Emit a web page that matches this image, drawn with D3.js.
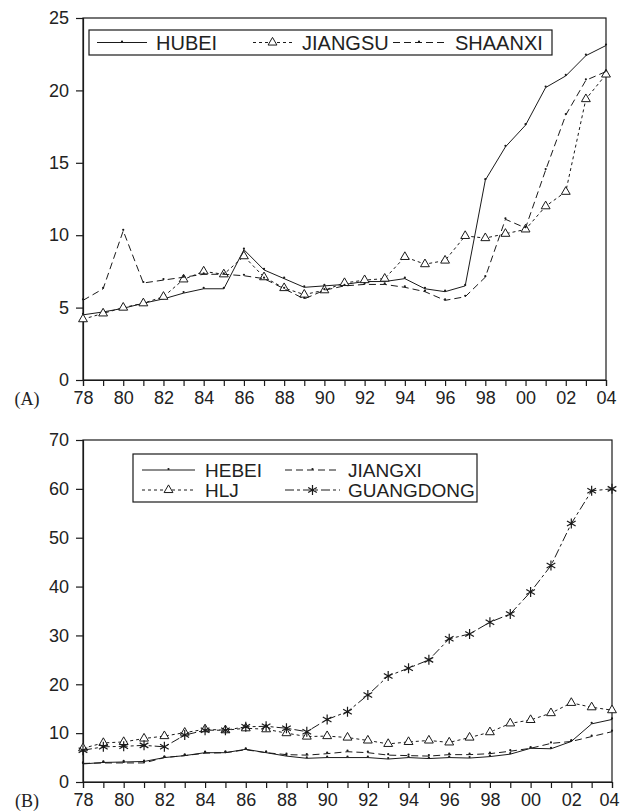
<!DOCTYPE html>
<html lang="en">
<head>
  <meta charset="UTF-8">
  <script src="https://d3js.org/d3.v7.min.js"></script>
  <title>Provinces</title>
  <style>
    body { margin: 0; background: #fff; }
    text { font-family: "Liberation Sans", Arial, Helvetica, sans-serif; fill: #222; }
  </style>
</head>
<body>
<script>
  /*
    Data
  */
  const years = d3.range(1978, 2005)

  const hubei   = [4.5,4.7,4.95,5.3,5.6,6.0,6.3,6.3,9.0,7.6,7.0,6.4,6.5,6.6,6.8,6.8,7.0,6.3,6.1,6.5,13.8,16.1,17.6,20.2,21.0,22.4,23.1]
  const jiangsu = [4.2,4.6,5.0,5.3,5.75,6.95,7.5,7.3,8.55,7.1,6.35,5.9,6.2,6.7,6.9,7.0,8.5,8.0,8.25,9.95,9.8,10.1,10.4,12.0,13.0,19.4,21.1]
  const shaanxi = [5.5,6.3,10.3,6.7,6.9,7.1,7.3,7.3,7.2,7.0,6.3,5.6,6.2,6.5,6.6,6.6,6.4,6.1,5.5,5.75,7.1,11.1,10.5,14.5,18.3,20.7,21.3]

  const hebei     = [3.7,4.0,4.1,4.2,5.0,5.4,6.0,6.0,6.7,6.0,5.3,4.85,5.0,5.0,5.0,4.7,5.0,4.8,5.0,4.9,5.2,5.7,6.9,6.8,8.3,11.9,12.8]
  const jiangxi   = [3.8,3.9,3.9,3.9,5.0,5.4,5.9,6.0,6.6,6.0,5.6,5.5,5.8,6.2,6.0,5.5,5.4,5.3,5.6,5.6,5.8,6.3,6.9,7.9,8.3,9.3,10.3]
  const hlj       = [6.9,8.0,8.2,8.9,9.4,10.1,10.8,10.6,11.0,10.8,10.0,9.3,9.4,9.1,8.5,7.8,8.2,8.5,8.1,9.1,10.2,12.0,12.7,14.1,16.2,15.3,14.7]
  const guangdong = [6.5,7.2,7.3,7.5,7.2,9.6,10.6,10.6,11.3,11.4,11.0,10.3,12.8,14.4,17.8,21.7,23.3,25.0,29.3,30.3,32.7,34.4,38.9,44.3,52.9,59.6,60.0]

  const ticksA = [0, 5, 10, 15, 20, 25]
  const ticksB = [0, 10, 20, 30, 40, 50, 60, 70]

  /*
    Line styles
  */
  const ink = "#1a1a1a"
  const styles = {
    solid:   { dash: null,       marker: "dot" },
    short:   { dash: "3,3",      marker: "tri" },
    long:    { dash: "7,4",      marker: "dot" },
    dashdot: { dash: "9,3,3,3",  marker: "star" }
  }

  let svg = d3.select("body").append("svg")
              .attr("width", 620)
              .attr("height", 811)

  function yearLabel(y) {
    return String(y % 100).padStart(2, "0")
  }

  function drawMarker(g, kind, x, y) {
    if (kind === "dot") {
      g.append("circle").attr("cx", x).attr("cy", y - 1).attr("r", 1.1).attr("fill", ink)
    } else if (kind === "tri") {
      g.append("path")
        .attr("d", d3.symbol(d3.symbolTriangle, 34)())
        .attr("transform", `translate(${x},${y})`)
        .attr("fill", "#fff").attr("stroke", ink).attr("stroke-width", 1)
    } else if (kind === "star") {
      g.append("path")
        .attr("d", d3.symbol(d3.symbolAsterisk, 70)())
        .attr("transform", `translate(${x},${y})`)
        .attr("fill", "none").attr("stroke", ink).attr("stroke-width", 1.2)
    }
  }

  /*
    One panel: box, axes, series, legend
  */
  function drawPanel(p) {
    let x = d3.scaleLinear().domain([1978, 2004]).range([p.left, p.right])
    let y = d3.scaleLinear().domain(p.domain).range([p.bottom, p.top])
    let g = svg.append("g")

    g.append("rect")
      .attr("x", p.left).attr("y", p.top)
      .attr("width", p.right - p.left).attr("height", p.bottom - p.top)
      .attr("fill", "none").attr("stroke", ink).attr("stroke-width", 1.2)

    let xAxis = d3.axisBottom(x).tickValues(years).tickSize(6).tickPadding(5)
                  .tickFormat(d => d % 2 === 0 ? yearLabel(d) : "")
    let gx = g.append("g").attr("transform", `translate(0,${p.bottom})`).call(xAxis)
    gx.select(".domain").attr("stroke", ink).attr("stroke-width", 1.2)
    gx.selectAll(".tick line").attr("stroke", ink).attr("stroke-width", 1.2)
    gx.selectAll(".tick text").attr("font-size", 18).attr("dy", "0.71em")
      .attr("font-family", "Liberation Sans, Arial, sans-serif").attr("fill", "#222")
    // keep the last year label inside the page
    gx.selectAll(".tick text").filter(d => d === 2004).attr("dx", p.lastShift)

    let yAxis = d3.axisLeft(y).tickValues(p.ticks).tickSize(7).tickPadding(7)
    let gy = g.append("g").attr("transform", `translate(${p.left},0)`).call(yAxis)
    gy.select(".domain").attr("stroke", ink).attr("stroke-width", 1.2)
    gy.selectAll(".tick line").attr("stroke", ink).attr("stroke-width", 1.2)
    gy.selectAll(".tick text").attr("font-size", 18)
      .attr("font-family", "Liberation Sans, Arial, sans-serif").attr("fill", "#222")

    // panel tag in serif
    g.append("text").attr("x", 27).attr("y", p.bottom + 25)
      .attr("text-anchor", "middle")
      .style("font-family", "'Liberation Serif', 'Times New Roman', serif")
      .attr("font-size", 18).text(p.tag)

    let line = d3.line().x((d, i) => x(years[i])).y(d => y(d))

    p.series.forEach(s => {
      let st = styles[s.style]
      g.append("path").datum(s.values)
        .attr("d", line)
        .attr("fill", "none").attr("stroke", ink).attr("stroke-width", 1)
        .attr("stroke-dasharray", st.dash)
      s.values.forEach((v, i) => drawMarker(g, st.marker, x(years[i]), y(v)))
    })

    // legend
    let lg = g.append("g")
    lg.append("rect")
      .attr("x", p.legend.x0).attr("y", p.legend.y0)
      .attr("width", p.legend.x1 - p.legend.x0).attr("height", p.legend.y1 - p.legend.y0)
      .attr("fill", "#fff").attr("stroke", ink).attr("stroke-width", 1.2)
    p.series.forEach((s, k) => {
      let pos = p.legend.items[k]
      let st = styles[s.style]
      lg.append("line")
        .attr("x1", pos[0]).attr("x2", pos[1]).attr("y1", pos[3]).attr("y2", pos[3])
        .attr("stroke", ink).attr("stroke-width", 1)
        .attr("stroke-dasharray", st.dash)
      drawMarker(lg, st.marker, (pos[0] + pos[1]) / 2, pos[3])
      lg.append("text").attr("x", pos[2]).attr("y", pos[3]).attr("dy", "0.36em")
        .attr("font-size", p.legend.fs).text(s.name)
    })
  }

  drawPanel({
    tag: "(A)", left: 83, right: 606, top: 18, bottom: 380, lastShift: 0,
    domain: [0, 25], ticks: ticksA,
    series: [
      { name: "HUBEI", values: hubei, style: "solid" },
      { name: "JIANGSU", values: jiangsu, style: "short" },
      { name: "SHAANXI", values: shaanxi, style: "long" }
    ],
    legend: {
      x0: 89, x1: 552, y0: 30, y1: 55, fs: 20,
      items: [[97, 147, 156, 42.5], [253, 292, 302, 42.5], [393, 445, 455, 42.5]]
    }
  })

  drawPanel({
    tag: "(B)", left: 83, right: 612, top: 440, bottom: 782, lastShift: -3,
    domain: [0, 70], ticks: ticksB,
    series: [
      { name: "HEBEI", values: hebei, style: "solid" },
      { name: "JIANGXI", values: jiangxi, style: "long" },
      { name: "HLJ", values: hlj, style: "short" },
      { name: "GUANGDONG", values: guangdong, style: "dashdot" }
    ],
    legend: {
      x0: 133, x1: 477, y0: 454, y1: 502, fs: 19,
      items: [[142, 195, 205, 470], [285, 340, 348, 470], [142, 195, 205, 490], [285, 340, 348, 490]]
    }
  })
</script>
</body>
</html>
